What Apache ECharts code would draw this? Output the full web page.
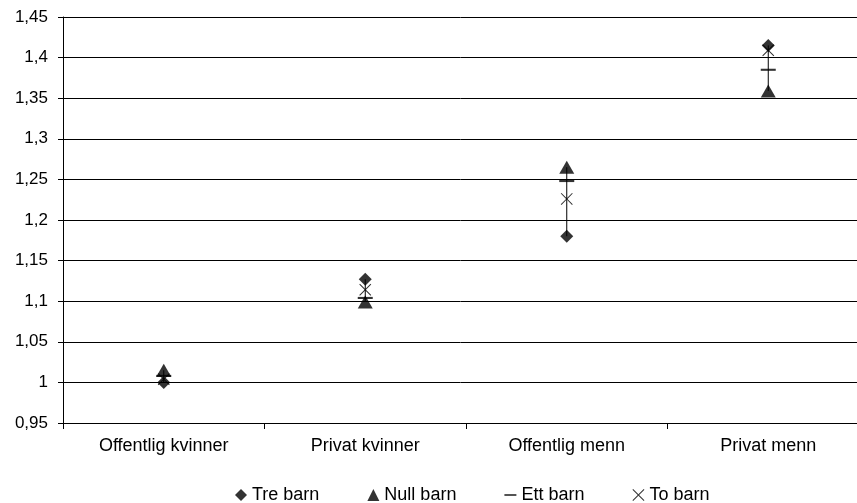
<!DOCTYPE html>
<html>
<head>
<meta charset="utf-8">
<script src="https://cdn.jsdelivr.net/npm/echarts@6/dist/echarts.min.js"></script>
<style>
  html, body { margin: 0; padding: 0; background: #fff; overflow: hidden; }
  #chart { width: 857px; height: 503px; }
</style>
</head>
<body>
<div id="chart"></div>
<script>
// Sektor og kjønn: relativ verdi etter antall barn
var categories = ['Offentlig kvinner', 'Privat kvinner', 'Offentlig menn', 'Privat menn'];
var treBarn  = [1.000, 1.127, 1.180, 1.415];
var nullBarn = [1.015, 1.099, 1.265, 1.359];
var ettBarn  = [1.008, 1.104, 1.248, 1.385];
var toBarn   = [1.004, 1.114, 1.226, 1.409];

var seriesNames = ['Tre barn', 'Null barn', 'Ett barn', 'To barn'];
var yTicks = { min: 0.95, max: 1.45, interval: 0.05 };

// Symbols: a thin horizontal bar and a thin cross, both inside a 100x100 box
var dashPath = 'path://M0,0L0,0M100,100L100,100M0,43L100,43L100,57L0,57Z';
var crossPath = 'path://M0,6L6,0L50,44L94,0L100,6L56,50L100,94L94,100L50,56L6,100L0,94L44,50Z';

var chart = echarts.init(document.getElementById('chart'));

var allSeries = [treBarn, nullBarn, ettBarn, toBarn];
var rangeData = categories.map(function (c, i) {
  var vals = allSeries.map(function (s) { return s[i]; });
  return [i, Math.min.apply(null, vals), Math.max.apply(null, vals)];
});

var font = 'Liberation Sans, Arial, sans-serif';

chart.setOption({
  animation: false,
  backgroundColor: '#fff',
  // the plot runs a little past the right edge of the canvas
  grid: {
    left: 63, width: 806, top: 17, bottom: 80,
    containLabel: false, outerBoundsMode: 'none'
  },
  xAxis: {
    type: 'category',
    data: categories,
    boundaryGap: true,
    axisLine: { lineStyle: { color: '#000', width: 1 } },
    axisTick: { show: true, length: 6, lineStyle: { color: '#000' } },
    axisLabel: { color: '#000', fontFamily: font, fontSize: 18, margin: 14 },
    splitLine: { show: false }
  },
  yAxis: {
    type: 'value',
    min: yTicks.min,
    max: yTicks.max,
    interval: yTicks.interval,
    axisLine: { show: true, lineStyle: { color: '#000', width: 1 } },
    axisTick: { show: true, length: 5, lineStyle: { color: '#000' } },
    axisLabel: {
      color: '#000', fontFamily: font, fontSize: 17, margin: 15,
      formatter: function (v) {
        return (Math.round(v * 100) / 100).toString().replace('.', ',');
      }
    },
    splitLine: { show: true, lineStyle: { color: '#000', width: 1 } }
  },
  legend: {
    top: 486,
    left: 235,
    itemGap: 48,
    itemWidth: 12,
    itemHeight: 12,
    padding: 0,
    textStyle: { color: '#000', fontFamily: font, fontSize: 18 },
    data: seriesNames
  },
  series: [
    {
      type: 'custom',
      name: 'range',
      silent: true,
      z: 1,
      renderItem: function (params, api) {
        var x = api.value(0);
        var lo = api.coord([x, api.value(1)]);
        var hi = api.coord([x, api.value(2)]);
        return {
          type: 'line',
          shape: { x1: lo[0], y1: lo[1], x2: hi[0], y2: hi[1] },
          style: { stroke: '#000', lineWidth: 1 }
        };
      },
      data: rangeData
    },
    {
      name: seriesNames[0], type: 'scatter', z: 3,
      symbol: 'diamond', symbolSize: 13,
      itemStyle: { color: '#000' },
      data: treBarn
    },
    {
      name: seriesNames[1], type: 'scatter', z: 3,
      symbol: 'triangle', symbolSize: [15, 13],
      itemStyle: { color: '#000' },
      data: nullBarn
    },
    {
      name: seriesNames[2], type: 'scatter', z: 3,
      symbol: dashPath, symbolSize: 15,
      itemStyle: { color: '#000' },
      data: ettBarn
    },
    {
      name: seriesNames[3], type: 'scatter', z: 3,
      symbol: crossPath, symbolSize: 12,
      itemStyle: { color: '#000' },
      data: toBarn
    }
  ]
});
</script>
</body>
</html>
